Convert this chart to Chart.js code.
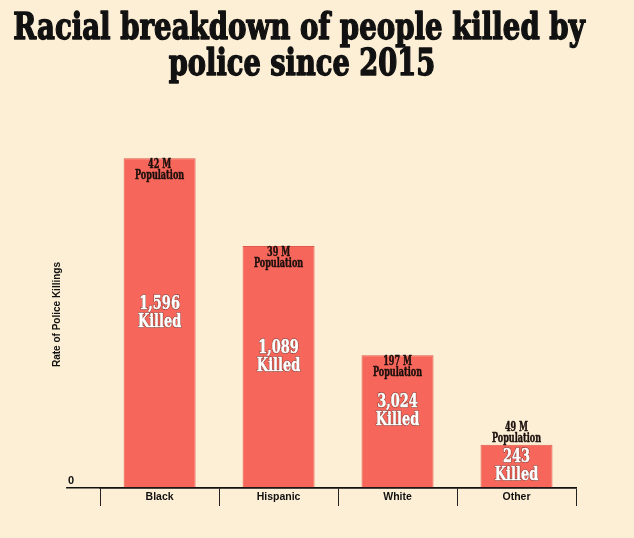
<!DOCTYPE html>
<html>
<head>
<meta charset="utf-8">
<script src="https://cdn.jsdelivr.net/npm/chart.js@4.4.1/dist/chart.umd.min.js"></script>
<style>
	html, body { margin: 0; padding: 0; background: #fdefd6; }
	#wrap { width: 634px; height: 538px; }
</style>
</head>
<body>
<div id="wrap"><canvas id="chart"></canvas></div>
<script>
const categories = ['Black', 'Hispanic', 'White', 'Other'];
// rate of police killings (killed per million people)
const rates = [38.0, 27.9, 15.3, 5.0];
const killed = [1596, 1089, 3024, 243];
const populationM = [42, 39, 197, 49];
const titleLines = ['Racial breakdown of people killed by', 'police since 2015'];

const SERIF = "'DejaVu Serif Condensed', 'DejaVu Serif', serif";
const SANS = "'Liberation Sans', Arial, sans-serif";

function drawSqueezed(ctx, text, x, y, font, color, sx, opts = {}) {
	ctx.save();
	ctx.translate(x, y);
	ctx.scale(sx, 1);
	ctx.font = font;
	ctx.textAlign = 'center';
	ctx.textBaseline = 'alphabetic';
	ctx.lineJoin = 'round';
	if (opts.outline) {
		ctx.strokeStyle = opts.outline;
		ctx.lineWidth = 1.6;
		ctx.strokeText(text, 0, 0);
	}
	if (opts.stroke) {
		ctx.strokeStyle = color;
		ctx.lineWidth = opts.stroke;
		ctx.strokeText(text, 0, 0);
	}
	ctx.fillStyle = color;
	ctx.fillText(text, 0, 0);
	ctx.restore();
}

const headline = {
	id: 'headline',
	afterDraw(chart) {
		const ctx = chart.ctx;
		drawSqueezed(ctx, titleLines[0], 299, 39, `bold 37px ${SERIF}`, '#111', 0.83, { stroke: 1.4 });
		drawSqueezed(ctx, titleLines[1], 302, 75, `bold 37px ${SERIF}`, '#111', 0.82, { stroke: 1.4 });
	}
};

const barLabels = {
	id: 'barLabels',
	afterDatasetsDraw(chart) {
		const ctx = chart.ctx;
		const meta = chart.getDatasetMeta(0);
		meta.data.forEach((bar, i) => {
			const top = bar.y;
			const base = bar.base;
			const h = base - top;
			const popTop = h < 60 ? top - 23 : top + 1;
			drawSqueezed(ctx, populationM[i] + ' M', bar.x, popTop + 9, `bold 12px ${SERIF}`, '#1a0f0c', 0.75, { stroke: 0.4 });
			drawSqueezed(ctx, 'Population', bar.x, popTop + 20, `bold 12px ${SERIF}`, '#1a0f0c', 0.75, { stroke: 0.4 });

			const mid = Math.max((top + base) / 2 - 12, top + 19);
			const outline = 'rgba(90, 35, 28, 0.85)';
			drawSqueezed(ctx, killed[i].toLocaleString('en-US'), bar.x, mid - 2, `bold 19px ${SERIF}`, '#fff', 0.76, { outline, stroke: 0.5 });
			drawSqueezed(ctx, 'Killed', bar.x, mid + 16, `bold 19px ${SERIF}`, '#fff', 0.76, { outline, stroke: 0.5 });
		});
	}
};

const config = {
	type: 'bar',
	data: {
		labels: categories,
		datasets: [
			{
				label: 'Rate of Police Killings',
				data: rates,
				backgroundColor: '#f7665a',
				borderColor: '#e0584c',
				borderWidth: 1,
				categoryPercentage: 1,
				barPercentage: 0.605,
			},
		],
	},
	options: {
		responsive: true,
		maintainAspectRatio: false,
		animation: false,
		layout: { padding: { top: 141, right: 58, bottom: 32, left: 47 } },
		plugins: {
			legend: { display: false },
			title: { display: false },
			tooltip: { enabled: false },
		},
		scales: {
			x: {
				offset: true,
				afterFit: (axis) => { axis.height = 18; },
				border: { display: true, color: '#111', width: 1.5 },
				grid: {
					offset: true,
					drawOnChartArea: false,
					drawTicks: true,
					tickLength: 18,
					color: '#222',
					lineWidth: 1,
				},
				ticks: {
					color: '#111',
					padding: -15,
					autoSkip: false,
					maxRotation: 0,
					font: { family: SANS, size: 10.5, weight: 'bold' },
				},
			},
			y: {
				min: 0,
				max: 40,
				afterBuildTicks: (axis) => { axis.ticks = [{ value: 0 }]; },
				border: { display: false },
				grid: {
					drawOnChartArea: true,
					drawTicks: true,
					tickLength: 34,
					color: '#111',
					lineWidth: 1.5,
				},
				ticks: {
					color: '#111',
					padding: -8,
					labelOffset: -7,
					font: { family: SANS, size: 11, weight: 'bold' },
				},
				title: {
					display: true,
					text: 'Rate of Police Killings',
					color: '#111',
					padding: { top: 4, bottom: 13 },
					font: { family: SANS, size: 10, weight: 'bold' },
				},
			},
		},
	},
	plugins: [barLabels, headline],
};

new Chart(document.getElementById('chart'), config);
</script>
</body>
</html>
